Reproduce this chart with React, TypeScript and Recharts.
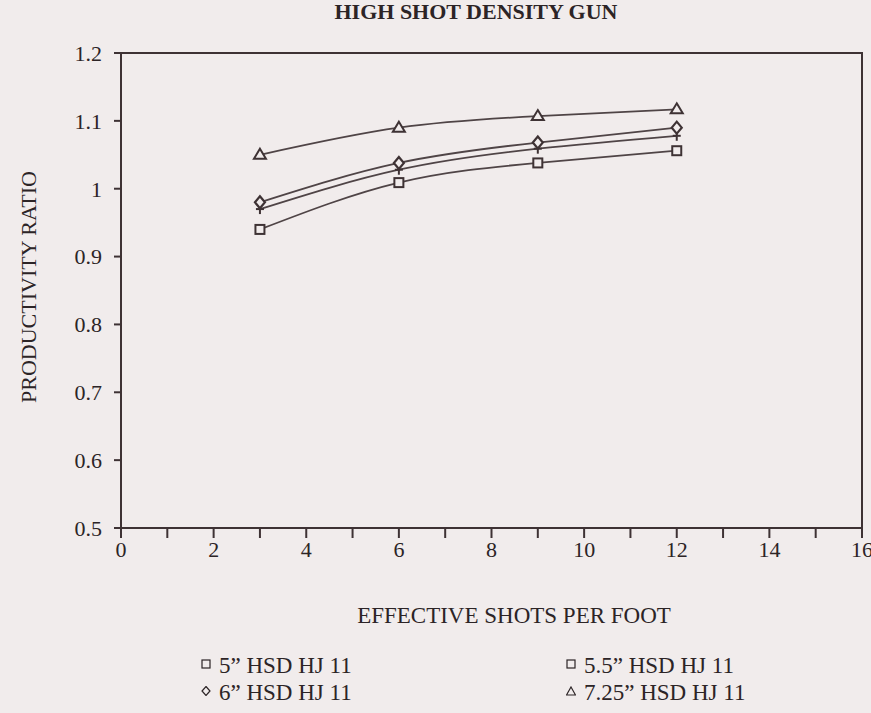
import React from "react"
import {
  LineChart,
  Line,
  XAxis,
  YAxis,
  ReferenceArea,
  Label,
} from "recharts"

const SHOTS = [3, 6, 9, 12]
const HSD_5 = [0.94, 1.009, 1.038, 1.056]
const HSD_55 = [0.97, 1.028, 1.059, 1.078]
const HSD_6 = [0.98, 1.038, 1.068, 1.09]
const HSD_725 = [1.05, 1.09, 1.107, 1.117]

const X_TICKS = [0, 1, 2, 3, 4, 5, 6, 7, 8, 9, 10, 11, 12, 13, 14, 15, 16]
const Y_TICKS = [0.5, 0.6, 0.7, 0.8, 0.9, 1.0, 1.1, 1.2]

const LEGEND_LABELS = ["5\u201D HSD HJ 11", "5.5\u201D HSD HJ 11", "6\u201D HSD HJ 11", "7.25\u201D HSD HJ 11"]
const LEGEND_KINDS = ["square", "square", "diamond", "triangle"]

const PAPER = "#f1ecec"
const INK = "#3e3234"
const LINE = "#4f4446"
const TEXT = "#2c2426"
const FONT = "'Liberation Serif', 'DejaVu Serif', serif"

const chartData = SHOTS.map((x, i) => ({
  x,
  hsd5: HSD_5[i],
  hsd55: HSD_55[i],
  hsd6: HSD_6[i],
  hsd725: HSD_725[i],
}))

const SquareDot = (p: any) => (
  <rect
    key={`sq-${p.index}`}
    x={p.cx - 4.5}
    y={p.cy - 4.5}
    width={9}
    height={9}
    fill={PAPER}
    stroke={INK}
    strokeWidth={2}
  />
)

const PlusDot = (p: any) => (
  <g key={`pl-${p.index}`} stroke={INK} strokeWidth={2}>
    <line x1={p.cx - 4} y1={p.cy} x2={p.cx + 4} y2={p.cy} />
    <line x1={p.cx} y1={p.cy - 5} x2={p.cx} y2={p.cy + 5} />
  </g>
)

const DiamondDot = (p: any) => (
  <polygon
    key={`di-${p.index}`}
    points={`${p.cx},${p.cy - 6} ${p.cx + 5},${p.cy} ${p.cx},${p.cy + 6} ${p.cx - 5},${p.cy}`}
    fill={PAPER}
    stroke={INK}
    strokeWidth={2.2}
  />
)

const TriangleDot = (p: any) => (
  <polygon
    key={`tr-${p.index}`}
    points={`${p.cx},${p.cy - 6} ${p.cx + 6},${p.cy + 4} ${p.cx - 6},${p.cy + 4}`}
    fill={PAPER}
    stroke={INK}
    strokeWidth={2}
  />
)

const LegendSymbol = ({ kind }: { kind: string }) => (
  <svg width={10} height={10} style={{ marginRight: 8, verticalAlign: 4 }}>
    {kind === "square" && <rect x={1} y={1} width={8} height={8} fill="none" stroke={TEXT} strokeWidth={1.2} />}
    {kind === "diamond" && <polygon points="5,0.5 9,5 5,9.5 1,5" fill="none" stroke={TEXT} strokeWidth={1.2} />}
    {kind === "triangle" && <polygon points="5,1 9.5,9 0.5,9" fill="none" stroke={TEXT} strokeWidth={1.2} />}
  </svg>
)

export default function App() {
  return (
    <div
      style={{
        position: "absolute",
        left: 0,
        top: 0,
        width: 871,
        height: 713,
        background: PAPER,
        fontFamily: FONT,
        color: TEXT,
        overflow: "hidden",
      }}
    >
      <div
        style={{
          position: "absolute",
          top: 0,
          left: 276,
          width: 400,
          textAlign: "center",
          fontWeight: "bold",
          fontSize: 22,
          lineHeight: "24px",
        }}
      >
        HIGH SHOT DENSITY GUN
      </div>
      <LineChart
        width={871}
        height={713}
        data={chartData}
        margin={{ top: 53, right: 9, left: 0, bottom: 95 }}
      >
        <XAxis
          type="number"
          dataKey="x"
          domain={[0, 16]}
          ticks={X_TICKS}
          interval={0}
          tickFormatter={(v: number) => (v % 2 === 0 ? String(v) : "")}
          tickSize={10}
          tickMargin={3}
          height={90}
          stroke={INK}
          strokeWidth={2}
          tick={{ fill: TEXT, fontSize: 22, fontFamily: FONT }}
        >
          <Label
            content={() => (
              <text x={514} y={623} textAnchor="middle" fill={TEXT} fontSize={23} fontFamily={FONT}>
                EFFECTIVE SHOTS PER FOOT
              </text>
            )}
          />
        </XAxis>
        <YAxis
          type="number"
          domain={[0.5, 1.2]}
          ticks={Y_TICKS}
          interval={0}
          width={121}
          tickSize={7}
          tickMargin={12}
          stroke={INK}
          strokeWidth={2}
          tickFormatter={(v: number) => String(Number(v.toFixed(1)))}
          tick={{ fill: TEXT, fontSize: 22, fontFamily: FONT }}
        >
          <Label
            content={() => (
              <text
                x={36}
                y={287}
                textAnchor="middle"
                transform="rotate(-90 36 287)"
                fill={TEXT}
                fontSize={22}
                fontFamily={FONT}
              >
                PRODUCTIVITY RATIO
              </text>
            )}
          />
        </YAxis>
        <ReferenceArea
          x1={0}
          x2={16}
          y1={0.5}
          y2={1.2}
          fill="none"
          stroke={INK}
          strokeWidth={2}
          fillOpacity={0}
        />
        <Line type="natural" dataKey="hsd5" stroke={LINE} strokeWidth={1.8} dot={SquareDot} isAnimationActive={false} />
        <Line type="natural" dataKey="hsd55" stroke={LINE} strokeWidth={1.8} dot={PlusDot} isAnimationActive={false} />
        <Line type="natural" dataKey="hsd6" stroke={LINE} strokeWidth={1.8} dot={DiamondDot} isAnimationActive={false} />
        <Line type="natural" dataKey="hsd725" stroke={LINE} strokeWidth={1.8} dot={TriangleDot} isAnimationActive={false} />
      </LineChart>
      <div
        style={{
          position: "absolute",
          top: 653,
          left: 201,
          display: "grid",
          gridTemplateColumns: "365px 240px",
          rowGap: 1,
          fontSize: 23,
          lineHeight: "26px",
        }}
      >
        {LEGEND_LABELS.map((label, i) => (
          <div key={label} style={{ whiteSpace: "nowrap" }}>
            <LegendSymbol kind={LEGEND_KINDS[i]} />
            {label}
          </div>
        ))}
      </div>
    </div>
  )
}
